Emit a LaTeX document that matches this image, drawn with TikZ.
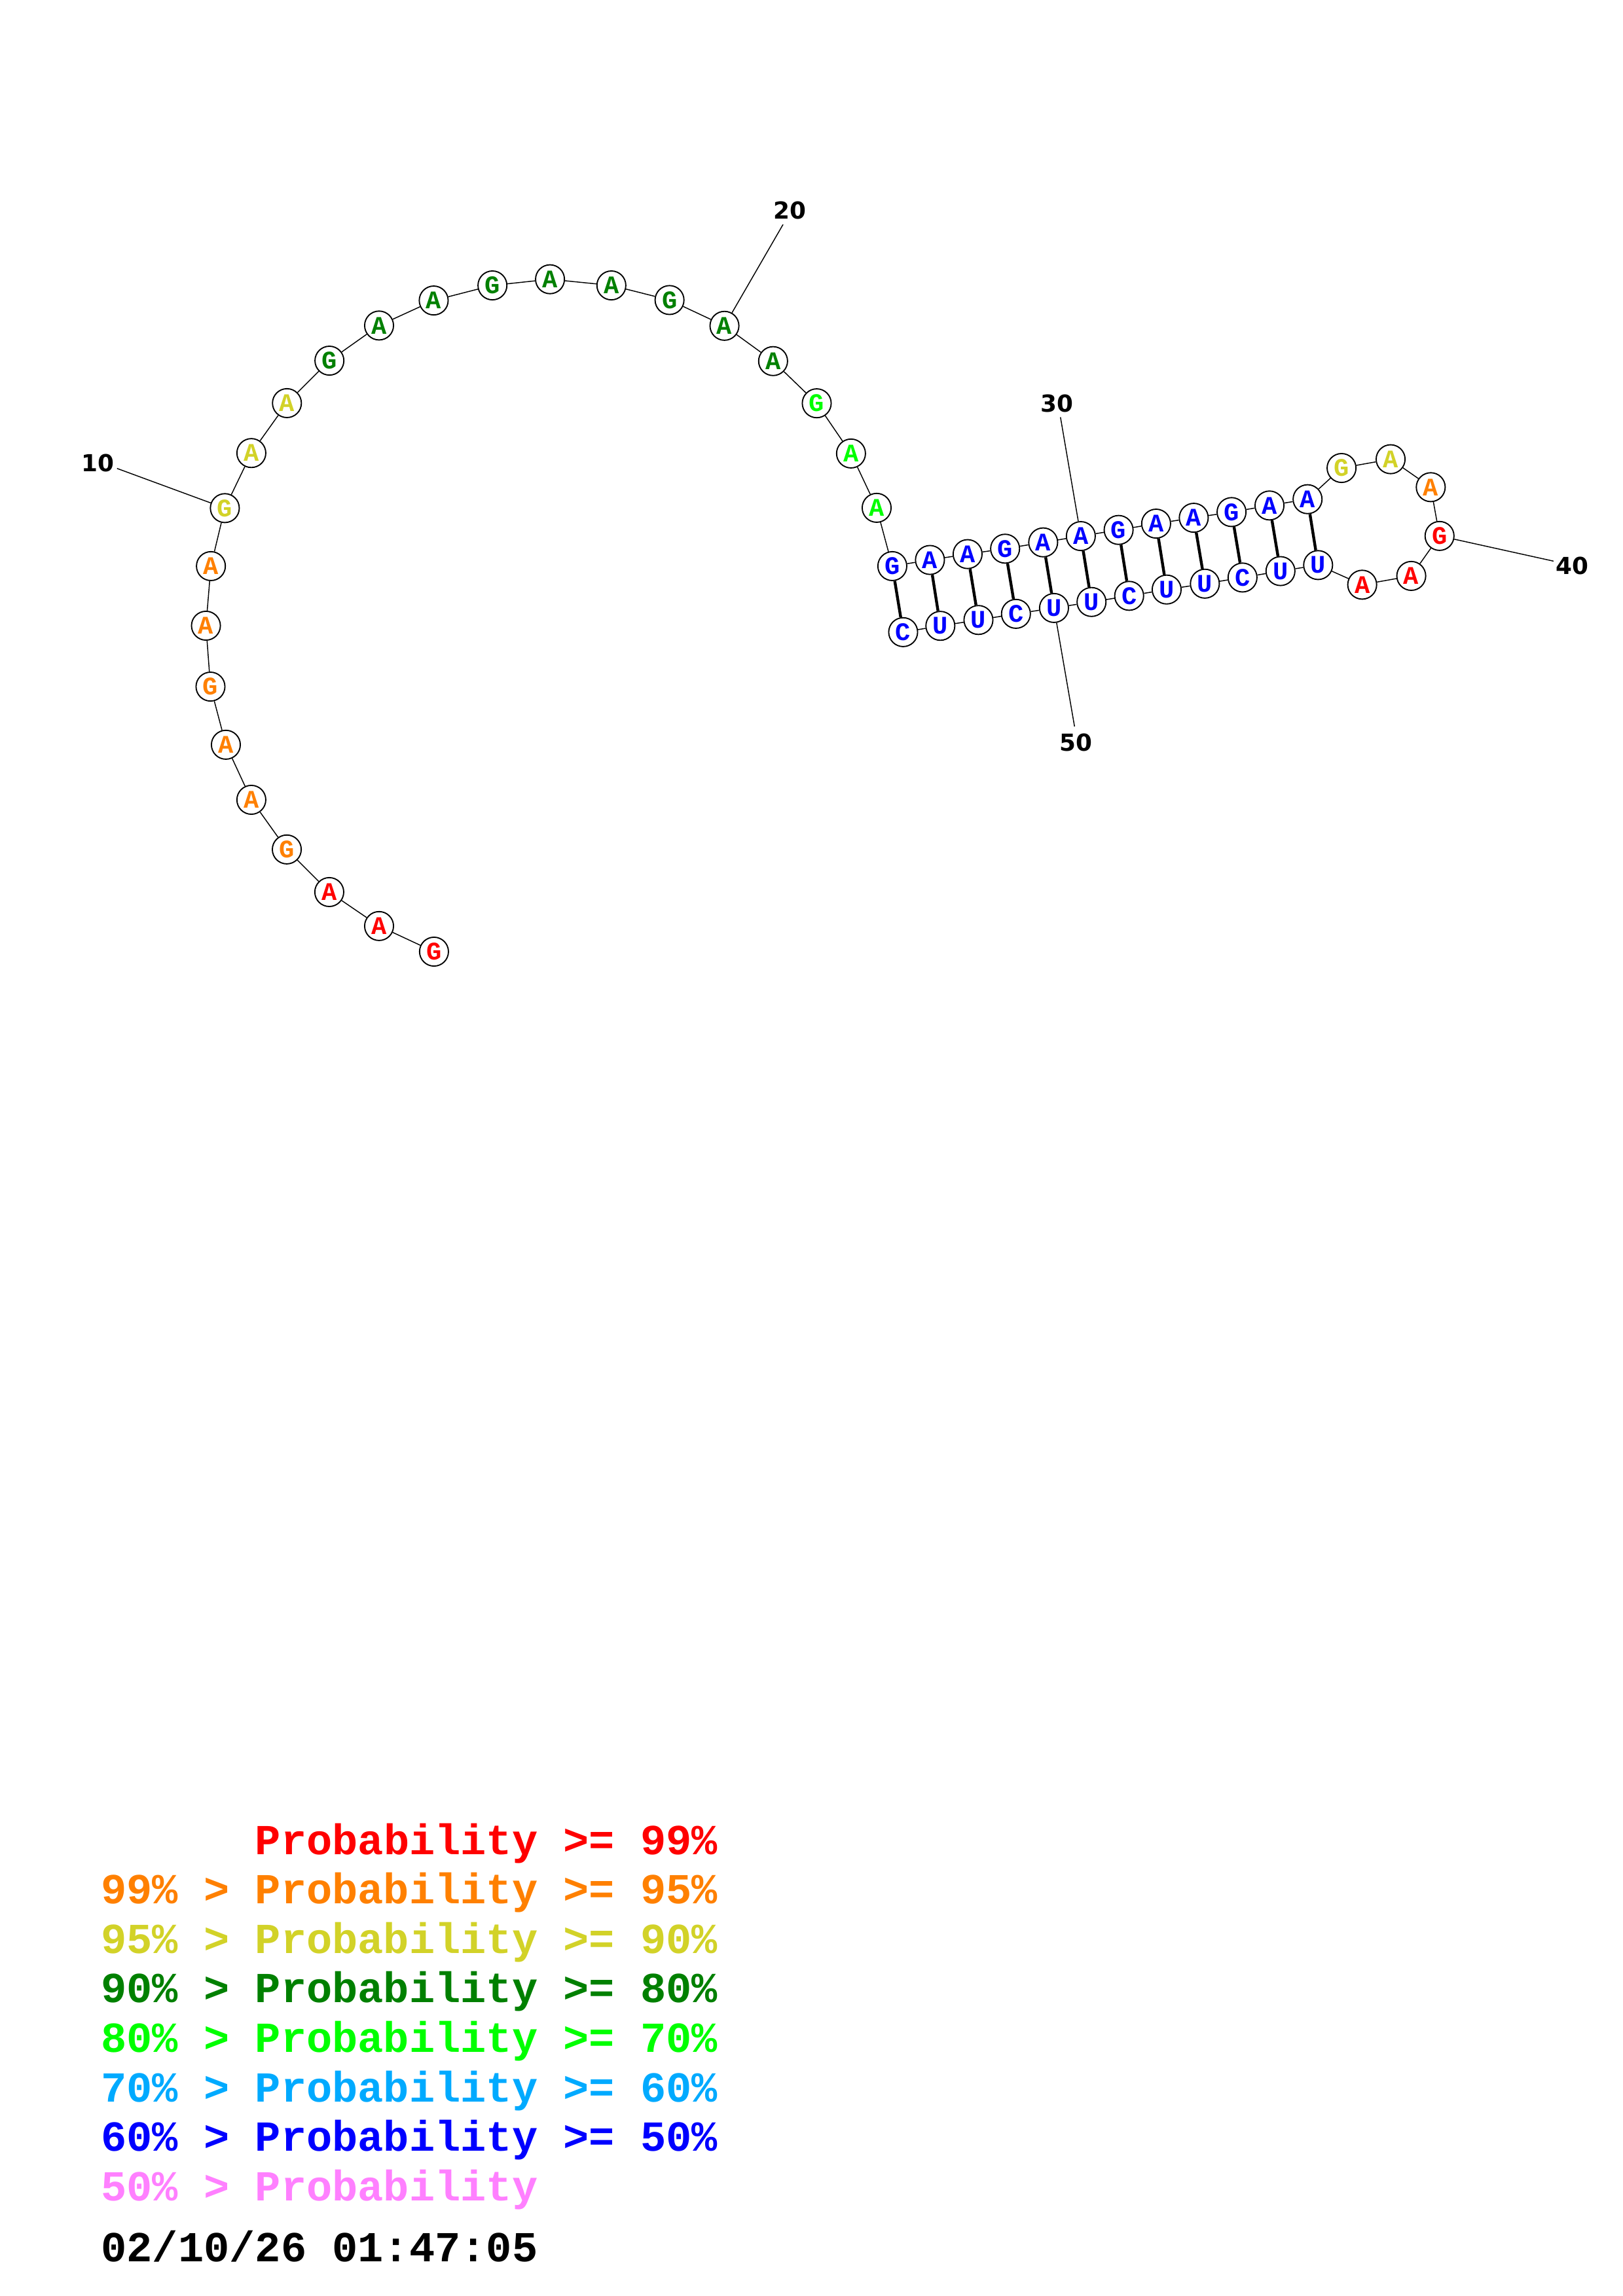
\documentclass[tikz,border=0pt]{standalone}
\usepackage{fontspec}
\newfontfamily\cour{Liberation Mono}
\newfontfamily\dvs{DejaVu Sans}
\definecolor{cR}{RGB}{255,0,0}
\definecolor{cO}{RGB}{255,128,0}
\definecolor{cY}{RGB}{210,210,40}
\definecolor{cD}{RGB}{0,128,0}
\definecolor{cG}{RGB}{0,255,0}
\definecolor{cS}{RGB}{0,170,255}
\definecolor{cB}{RGB}{0,0,255}
\definecolor{cP}{RGB}{255,128,255}
\tikzset{
  nt/.style={circle,draw=black,line width=0.45pt,fill=white,minimum size=10.6pt,inner sep=0pt,
    font=\cour\bfseries\fontsize{9.3}{9.3}\selectfont},
  bb/.style={line width=0.35pt,black},
  pairline/.style={line width=1.05pt,black},
  lbl/.style={font=\dvs\bfseries\fontsize{8.6}{8.6}\selectfont,inner sep=0pt},
  lblline/.style={line width=0.35pt,black},
  leg/.style={anchor=base west,inner sep=0pt,font=\cour\bfseries\fontsize{15.7}{15.7}\selectfont}
}
\begin{document}
\begin{tikzpicture}[x=0.5373pt,y=-0.5373pt]
\useasboundingbox (0,0) rectangle (1108,1568);
\fill[white] (0,0) rectangle (1108,1568);
\foreach \i/\x/\y/\b/\c in {
 1/296.3/649.9/G/cR, 2/258.8/632.4/A/cR, 3/224.8/609.2/A/cR, 4/195.8/580.1/G/cO,
 5/171.6/546.2/A/cO, 6/154.2/508.6/A/cO, 7/143.7/468.9/G/cO, 8/140.6/427.3/A/cO,
 9/144.0/386.6/A/cO, 10/153.5/347.0/G/cY, 11/171.6/309.4/A/cY, 12/195.9/275.3/A/cY,
 13/224.9/246.3/G/cD, 14/258.8/222.3/A/cD, 15/296.1/205.2/A/cD, 16/336.2/194.9/G/cD,
 17/375.5/190.7/A/cD, 18/417.4/194.9/A/cD, 19/457.1/204.9/G/cD, 20/494.6/222.5/A/cD,
 21/527.8/246.6/A/cD, 22/557.6/275.4/G/cG, 23/581.0/309.7/A/cG, 24/598.5/346.8/A/cG,
 25/609.2/386.6/G/cB, 26/634.9/382.4/A/cB, 27/660.6/378.4/A/cB, 28/686.2/374.7/G/cB,
 29/712.2/370.4/A/cB, 30/737.9/366.1/A/cB, 31/763.7/361.9/G/cB, 32/789.3/357.6/A/cB,
 33/815.0/353.6/A/cB, 34/840.8/349.7/G/cB, 35/866.7/345.2/A/cB, 36/892.7/340.9/A/cB,
 37/915.9/319.6/G/cY, 38/949.4/313.6/A/cY, 39/976.8/332.7/A/cO, 40/982.8/366.0/G/cR,
 41/963.5/393.3/A/cR, 42/930.0/399.3/A/cR, 43/899.9/385.9/U/cB, 44/874.2/390.0/U/cB,
 45/848.3/394.4/C/cB, 46/822.6/398.6/U/cB, 47/796.5/402.6/U/cB, 48/770.9/406.9/C/cB,
 49/745.2/411.1/U/cB, 50/719.6/415.2/U/cB, 51/693.6/419.2/C/cB, 52/668.0/423.4/U/cB,
 53/642.0/427.4/U/cB, 54/616.6/431.7/C/cB}
 {\node[nt,text=\c] (n\i) at (\x,\y) {\b};}
\foreach \i in {1,...,53}{\pgfmathtruncatemacro\j{\i+1}\draw[bb] (n\i) -- (n\j);}
\foreach \a/\b in {25/54,26/53,27/52,28/51,29/50,30/49,31/48,32/47,33/46,34/45,35/44,36/43}
 {\draw[pairline] (n\a) -- (n\b);}
% position labels
\node[lbl] (l10) at (66.7,316.3) {10};
\node[lbl] (l20) at (539.3,143.7) {20};
\node[lbl] (l30) at (721.6,275.5) {30};
\node[lbl] (l40) at (1073.5,386.6) {40};
\node[lbl] (l50) at (734.6,506.9) {50};
\coordinate (e10) at (79.9,319.9);
\coordinate (e20) at (534.6,153.3);
\coordinate (e30) at (724.0,284.9);
\coordinate (e40) at (1060.6,383.2);
\coordinate (e50) at (733.6,496.1);
\foreach \k in {10,20,30,40,50}{\draw[lblline] (e\k) -- (n\k);}
% legend
\node[leg,text=cR] (g1) at (68.7,1266.3) {\phantom{99\% > }Probability >= 99\%};
\node[leg,text=cO] (g2) at (68.7,1300.1) {99\% > Probability >= 95\%};
\node[leg,text=cY] (g3) at (68.7,1333.9) {95\% > Probability >= 90\%};
\node[leg,text=cD] (g4) at (68.7,1367.7) {90\% > Probability >= 80\%};
\node[leg,text=cG] (g5) at (68.7,1401.5) {80\% > Probability >= 70\%};
\node[leg,text=cS] (g6) at (68.7,1435.3) {70\% > Probability >= 60\%};
\node[leg,text=cB] (g7) at (68.7,1469.1) {60\% > Probability >= 50\%};
\node[leg,text=cP] (g8) at (68.7,1502.9) {50\% > Probability};
\node[leg,text=black] (g9) at (68.7,1544.5) {02/10/26 01:47:05};
\end{tikzpicture}
\end{document}
